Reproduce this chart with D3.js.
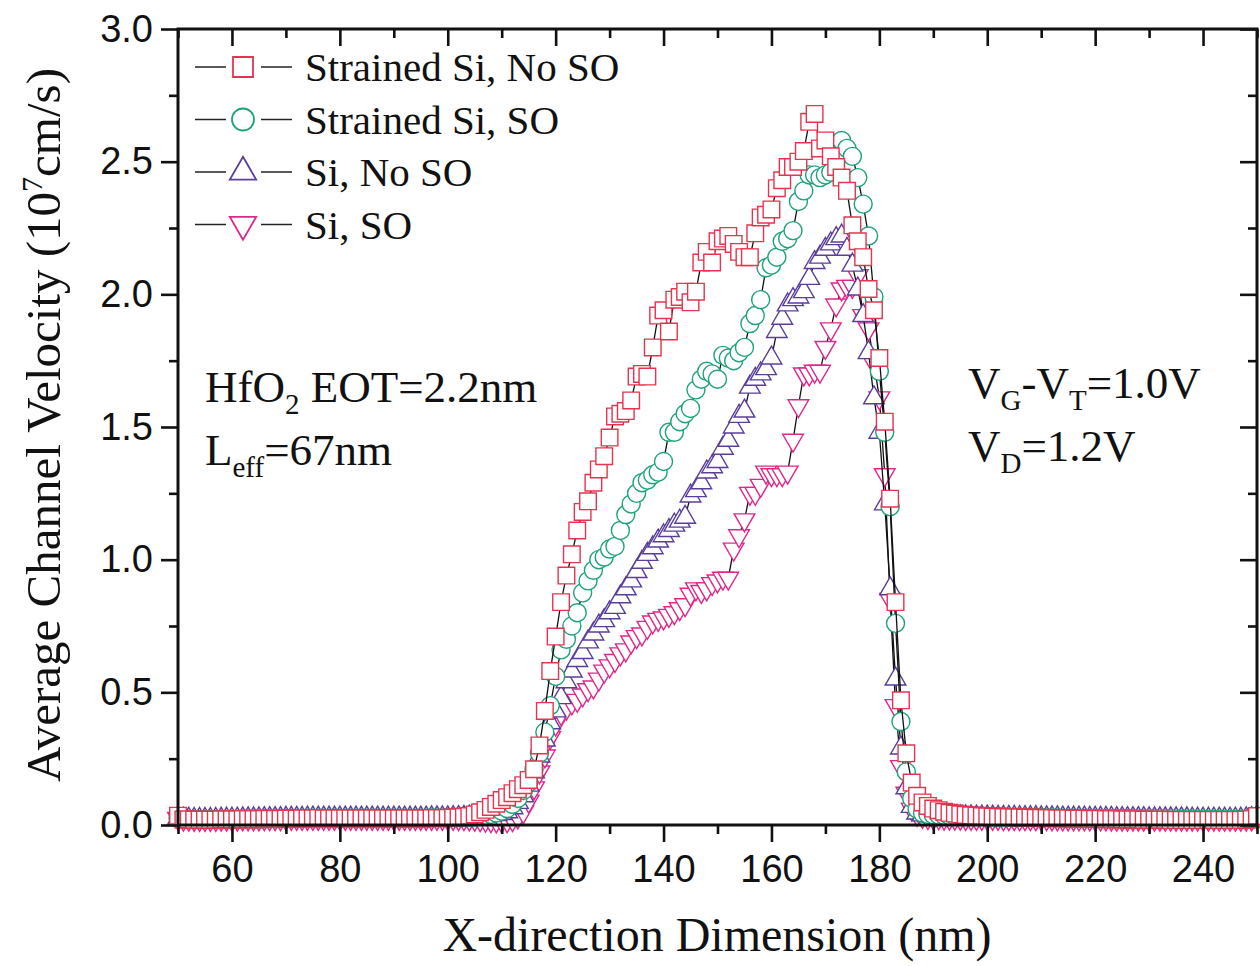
<!DOCTYPE html>
<html>
<head>
<meta charset="utf-8">
<script src="https://cdn.jsdelivr.net/npm/d3@7"></script>
<style>
  body { margin: 0; background: #fff; }
  text { fill: #111; }
</style>
</head>
<body>
<svg id="chart" width="1260" height="966"></svg>
<script>
// x positions along the channel (nm), one sample per nm
const positionsNm = [
  50, 51, 52, 53, 54, 55, 56, 57, 58, 59,
  60, 61, 62, 63, 64, 65, 66, 67, 68, 69,
  70, 71, 72, 73, 74, 75, 76, 77, 78, 79,
  80, 81, 82, 83, 84, 85, 86, 87, 88, 89,
  90, 91, 92, 93, 94, 95, 96, 97, 98, 99,
  100, 101, 102, 103, 104, 105, 106, 107, 108, 109,
  110, 111, 112, 113, 114, 115, 116, 117, 118, 119,
  120, 121, 122, 123, 124, 125, 126, 127, 128, 129,
  130, 131, 132, 133, 134, 135, 136, 137, 138, 139,
  140, 141, 142, 143, 144, 145, 146, 147, 148, 149,
  150, 151, 152, 153, 154, 155, 156, 157, 158, 159,
  160, 161, 162, 163, 164, 165, 166, 167, 168, 169,
  170, 171, 172, 173, 174, 175, 176, 177, 178, 179,
  180, 181, 182, 183, 184, 185, 186, 187, 188, 189,
  190, 191, 192, 193, 194, 195, 196, 197, 198, 199,
  200, 201, 202, 203, 204, 205, 206, 207, 208, 209,
  210, 211, 212, 213, 214, 215, 216, 217, 218, 219,
  220, 221, 222, 223, 224, 225, 226, 227, 228, 229,
  230, 231, 232, 233, 234, 235, 236, 237, 238, 239,
  240, 241, 242, 243, 244, 245, 246, 247, 248, 249,
  250
];

// average channel velocity, 1e7 cm/s
const strainedNoSO = [
  0.035, 0.021, 0.021, 0.020, 0.020, 0.020, 0.020, 0.020, 0.021, 0.021,
  0.021, 0.021, 0.022, 0.022, 0.022, 0.022, 0.023, 0.023, 0.023, 0.023,
  0.024, 0.024, 0.024, 0.025, 0.025, 0.025, 0.026, 0.025, 0.025, 0.025,
  0.025, 0.025, 0.025, 0.025, 0.025, 0.025, 0.025, 0.025, 0.025, 0.025,
  0.025, 0.025, 0.025, 0.025, 0.025, 0.025, 0.025, 0.026, 0.026, 0.026,
  0.027, 0.028, 0.029, 0.031, 0.034, 0.040, 0.048, 0.057, 0.068, 0.080,
  0.094, 0.105, 0.120, 0.135, 0.150, 0.170, 0.210, 0.300, 0.430, 0.580,
  0.710, 0.840, 0.940, 1.020, 1.110, 1.180, 1.220, 1.290, 1.340, 1.390,
  1.460, 1.540, 1.550, 1.560, 1.600, 1.690, 1.700, 1.690, 1.800, 1.920,
  1.940, 1.860, 1.980, 1.990, 2.010, 1.970, 2.010, 2.120, 2.160, 2.120,
  2.200, 2.210, 2.220, 2.190, 2.160, 2.140, 2.140, 2.230, 2.290, 2.300,
  2.320, 2.400, 2.430, 2.480, 2.480, 2.500, 2.540, 2.650, 2.680, 2.550,
  2.580, 2.520, 2.480, 2.440, 2.390, 2.260, 2.200, 2.140, 2.020, 1.940,
  1.760, 1.520, 1.230, 0.840, 0.470, 0.270, 0.160, 0.110, 0.085, 0.072,
  0.062, 0.056, 0.050, 0.046, 0.043, 0.040, 0.038, 0.036, 0.035, 0.034,
  0.033, 0.032, 0.031, 0.030, 0.030, 0.029, 0.029, 0.028, 0.028, 0.027,
  0.027, 0.026, 0.026, 0.025, 0.025, 0.025, 0.024, 0.024, 0.024, 0.023,
  0.023, 0.023, 0.022, 0.022, 0.022, 0.021, 0.021, 0.021, 0.021, 0.020,
  0.020, 0.020, 0.020, 0.020, 0.019, 0.019, 0.019, 0.019, 0.019, 0.019,
  0.019, 0.019, 0.019, 0.019, 0.019, 0.019, 0.019, 0.019, 0.020, 0.022,
  0.034
];

const strainedSO = [
  0.025, 0.022, 0.022, 0.021, 0.021, 0.021, 0.021, 0.021, 0.022, 0.022,
  0.022, 0.022, 0.023, 0.023, 0.023, 0.023, 0.024, 0.024, 0.024, 0.024,
  0.025, 0.025, 0.025, 0.026, 0.026, 0.026, 0.026, 0.026, 0.026, 0.026,
  0.026, 0.026, 0.026, 0.026, 0.026, 0.026, 0.026, 0.026, 0.026, 0.026,
  0.026, 0.026, 0.026, 0.026, 0.026, 0.026, 0.026, 0.027, 0.027, 0.027,
  0.027, 0.028, 0.028, 0.029, 0.030, 0.031, 0.033, 0.036, 0.040, 0.045,
  0.052, 0.062, 0.078, 0.100, 0.130, 0.160, 0.210, 0.270, 0.350, 0.450,
  0.560, 0.660, 0.700, 0.750, 0.800, 0.875, 0.920, 0.960, 1.000, 1.010,
  1.040, 1.050, 1.110, 1.170, 1.210, 1.250, 1.290, 1.300, 1.320, 1.330,
  1.370, 1.480, 1.480, 1.520, 1.550, 1.570, 1.640, 1.680, 1.710, 1.700,
  1.680, 1.770, 1.760, 1.750, 1.780, 1.800, 1.890, 1.920, 1.980, 2.100,
  2.110, 2.140, 2.200, 2.210, 2.240, 2.350, 2.390, 2.450, 2.450, 2.440,
  2.450, 2.460, 2.520, 2.580, 2.550, 2.520, 2.440, 2.340, 2.220, 1.990,
  1.710, 1.480, 1.200, 0.760, 0.390, 0.200, 0.100, 0.060, 0.045, 0.040,
  0.038, 0.037, 0.036, 0.035, 0.034, 0.034, 0.033, 0.033, 0.032, 0.032,
  0.031, 0.031, 0.030, 0.030, 0.030, 0.029, 0.029, 0.029, 0.028, 0.028,
  0.028, 0.027, 0.027, 0.027, 0.026, 0.026, 0.026, 0.026, 0.025, 0.025,
  0.025, 0.025, 0.025, 0.024, 0.024, 0.024, 0.024, 0.024, 0.023, 0.023,
  0.023, 0.023, 0.023, 0.023, 0.023, 0.022, 0.022, 0.022, 0.022, 0.022,
  0.022, 0.022, 0.022, 0.022, 0.022, 0.022, 0.022, 0.022, 0.023, 0.024,
  0.030
];

const siNoSO = [
  0.025, 0.022, 0.022, 0.021, 0.021, 0.021, 0.021, 0.021, 0.022, 0.022,
  0.022, 0.022, 0.023, 0.023, 0.023, 0.023, 0.024, 0.024, 0.024, 0.024,
  0.025, 0.025, 0.025, 0.025, 0.026, 0.026, 0.026, 0.026, 0.026, 0.026,
  0.026, 0.026, 0.026, 0.026, 0.026, 0.026, 0.026, 0.026, 0.026, 0.026,
  0.026, 0.026, 0.026, 0.026, 0.026, 0.026, 0.026, 0.027, 0.027, 0.027,
  0.027, 0.028, 0.028, 0.029, 0.030, 0.031, 0.032, 0.034, 0.036, 0.039,
  0.043, 0.050, 0.065, 0.085, 0.110, 0.150, 0.200, 0.260, 0.320, 0.385,
  0.430, 0.480, 0.540, 0.580, 0.620, 0.650, 0.690, 0.720, 0.750, 0.770,
  0.800, 0.820, 0.860, 0.890, 0.920, 0.955, 0.990, 1.020, 1.045, 1.070,
  1.090, 1.110, 1.130, 1.145, 1.160, 1.240, 1.260, 1.290, 1.330, 1.350,
  1.370, 1.420, 1.450, 1.500, 1.540, 1.560, 1.650, 1.680, 1.700, 1.720,
  1.760, 1.860, 1.910, 1.960, 1.980, 1.990, 2.010, 2.060, 2.120, 2.140,
  2.170, 2.190, 2.210, 2.220, 2.170, 2.110, 2.020, 1.920, 1.780, 1.610,
  1.480, 1.210, 0.890, 0.550, 0.290, 0.140, 0.070, 0.045, 0.038, 0.035,
  0.034, 0.033, 0.033, 0.032, 0.032, 0.031, 0.031, 0.031, 0.030, 0.030,
  0.030, 0.030, 0.029, 0.029, 0.029, 0.029, 0.028, 0.028, 0.028, 0.028,
  0.027, 0.027, 0.027, 0.027, 0.026, 0.026, 0.026, 0.026, 0.026, 0.025,
  0.025, 0.025, 0.025, 0.025, 0.024, 0.024, 0.024, 0.024, 0.024, 0.024,
  0.023, 0.023, 0.023, 0.023, 0.023, 0.023, 0.023, 0.023, 0.022, 0.022,
  0.022, 0.022, 0.022, 0.022, 0.022, 0.022, 0.022, 0.022, 0.023, 0.024,
  0.030
];

const siSO = [
  0.025, 0.022, 0.022, 0.021, 0.021, 0.021, 0.021, 0.021, 0.022, 0.022,
  0.022, 0.022, 0.023, 0.023, 0.023, 0.023, 0.024, 0.024, 0.024, 0.024,
  0.025, 0.025, 0.025, 0.025, 0.025, 0.025, 0.025, 0.025, 0.025, 0.025,
  0.025, 0.025, 0.025, 0.025, 0.025, 0.025, 0.025, 0.025, 0.025, 0.025,
  0.025, 0.025, 0.025, 0.025, 0.025, 0.025, 0.025, 0.025, 0.025, 0.025,
  0.025, 0.025, 0.024, 0.024, 0.023, 0.022, 0.020, 0.018, 0.016, 0.015,
  0.015, 0.016, 0.020, 0.030, 0.050, 0.090, 0.140, 0.200, 0.260, 0.330,
  0.380, 0.420, 0.440, 0.460, 0.470, 0.490, 0.510, 0.520, 0.550, 0.580,
  0.600, 0.620, 0.645, 0.660, 0.690, 0.710, 0.720, 0.745, 0.765, 0.775,
  0.780, 0.790, 0.800, 0.815, 0.830, 0.870, 0.890, 0.880, 0.890, 0.910,
  0.920, 0.930, 0.930, 1.040, 1.090, 1.150, 1.250, 1.250, 1.280, 1.330,
  1.320, 1.320, 1.320, 1.330, 1.450, 1.580, 1.700, 1.700, 1.710, 1.710,
  1.800, 1.870, 1.960, 2.020, 2.030, 2.030, 2.070, 1.920, 1.870, 1.740,
  1.610, 1.320, 0.850, 0.450, 0.220, 0.120, 0.060, 0.040, 0.032, 0.028,
  0.027, 0.027, 0.026, 0.026, 0.026, 0.026, 0.025, 0.025, 0.025, 0.025,
  0.025, 0.025, 0.025, 0.024, 0.024, 0.024, 0.024, 0.024, 0.024, 0.024,
  0.024, 0.024, 0.023, 0.023, 0.023, 0.023, 0.023, 0.023, 0.023, 0.023,
  0.023, 0.023, 0.023, 0.022, 0.022, 0.022, 0.022, 0.022, 0.022, 0.022,
  0.022, 0.022, 0.022, 0.022, 0.022, 0.022, 0.022, 0.022, 0.022, 0.022,
  0.022, 0.022, 0.022, 0.022, 0.022, 0.022, 0.022, 0.022, 0.022, 0.023,
  0.028
];

const seriesNames = ["Strained Si, No SO", "Strained Si, SO", "Si, No SO", "Si, SO"];
const seriesValues = [strainedNoSO, strainedSO, siNoSO, siSO];
const seriesColors = ["#e5344f", "#1ea27c", "#5a3e9c", "#e0268a"];
const seriesSymbols = [d3.symbolSquare, d3.symbolCircle, d3.symbolTriangle, d3.symbolTriangle];
const seriesRotate = [0, 0, 0, 180];

const xMajor = [60, 80, 100, 120, 140, 160, 180, 200, 220, 240];
const xMinor = [50, 70, 90, 110, 130, 150, 170, 190, 210, 230, 250];
const yMajor = [0, 0.5, 1.0, 1.5, 2.0, 2.5, 3.0];
const yMinor = [0.25, 0.75, 1.25, 1.75, 2.25, 2.75];

const plotLeft = 178, plotRight = 1257, plotTop = 29, plotBottom = 825;
const serif = "'Liberation Serif', 'Times New Roman', serif";
const sans = "'Liberation Sans', Arial, sans-serif";

const svg = d3.select("#chart");
svg.append("rect").attr("width", 1260).attr("height", 966).attr("fill", "#fff");

const x = d3.scaleLinear().domain([50, 250]).range([plotLeft, plotRight]);
const y = d3.scaleLinear().domain([0, 3]).range([plotBottom, plotTop]);

// data: lines then markers, Si SO drawn first so strained No SO ends up on top
const line = d3.line().x(d => x(d[0])).y(d => y(d[1]));
const plotSizes = [275, 255, 185, 185];

const order = [3, 2, 1, 0];
order.forEach(function (s) {
  const pts = positionsNm.map((p, i) => [p, seriesValues[s][i]]);
  const g = svg.append("g").attr("class", "series s" + s);
  g.append("path")
    .datum(pts)
    .attr("d", line)
    .attr("fill", "none")
    .attr("stroke", "#111")
    .attr("stroke-width", 1.3);
  const sym = d3.symbol().type(seriesSymbols[s]).size(plotSizes[s]);
  g.selectAll(".pt")
    .data(pts)
    .enter()
    .append("path")
    .attr("class", "pt")
    .attr("d", sym)
    .attr("transform", function (d) {
      return "translate(" + x(d[0]) + "," + y(d[1]) + ") rotate(" + seriesRotate[s] + ")";
    })
    .attr("fill", "#fff")
    .attr("stroke", seriesColors[s])
    .attr("stroke-width", 1.4);
});

// axes
function styleAxis(g, fontSize) {
  g.select(".domain").remove();
  g.selectAll(".tick line").attr("stroke", "#111").attr("stroke-width", 2.6);
  g.selectAll(".tick text")
    .attr("fill", "#111")
    .style("font-family", sans)
    .style("font-size", fontSize + "px");
}

svg.append("g").attr("transform", "translate(0," + plotBottom + ")")
  .call(d3.axisBottom(x).tickValues(xMajor).tickSize(17).tickPadding(13).tickFormat(d3.format("d")))
  .call(g => styleAxis(g, 38));
svg.append("g").attr("transform", "translate(0," + plotBottom + ")")
  .call(d3.axisBottom(x).tickValues(xMinor).tickSize(9).tickFormat(""))
  .call(g => styleAxis(g, 38));
svg.append("g").attr("transform", "translate(0," + plotTop + ")")
  .call(d3.axisTop(x).tickValues(xMajor).tickSize(-17).tickFormat(""))
  .call(g => styleAxis(g, 38));
svg.append("g").attr("transform", "translate(0," + plotTop + ")")
  .call(d3.axisTop(x).tickValues(xMinor).tickSize(-9).tickFormat(""))
  .call(g => styleAxis(g, 38));

svg.append("g").attr("transform", "translate(" + plotLeft + ",0)")
  .call(d3.axisLeft(y).tickValues(yMajor).tickSize(17).tickPadding(8).tickFormat(d3.format(".1f")))
  .call(g => styleAxis(g, 38));
svg.append("g").attr("transform", "translate(" + plotLeft + ",0)")
  .call(d3.axisLeft(y).tickValues(yMinor).tickSize(9).tickFormat(""))
  .call(g => styleAxis(g, 38));
svg.append("g").attr("transform", "translate(" + plotRight + ",0)")
  .call(d3.axisRight(y).tickValues(yMajor).tickSize(-17).tickFormat(""))
  .call(g => styleAxis(g, 38));
svg.append("g").attr("transform", "translate(" + plotRight + ",0)")
  .call(d3.axisRight(y).tickValues(yMinor).tickSize(-9).tickFormat(""))
  .call(g => styleAxis(g, 38));

svg.append("rect")
  .attr("x", plotLeft).attr("y", plotTop)
  .attr("width", plotRight - plotLeft).attr("height", plotBottom - plotTop)
  .attr("fill", "none").attr("stroke", "#111").attr("stroke-width", 3);

// axis titles
svg.append("text")
  .attr("x", 717)
  .attr("y", 951)
  .attr("text-anchor", "middle")
  .style("font-family", serif)
  .style("font-size", "48px")
  .text("X-direction Dimension (nm)");

const yt = svg.append("text")
  .attr("transform", "translate(60,425) rotate(-90)")
  .attr("text-anchor", "middle")
  .style("font-family", serif)
  .style("font-size", "49px");
yt.append("tspan").text("Average Channel Velocity (10");
yt.append("tspan").attr("dy", -18).style("font-size", "30px").text("7");
yt.append("tspan").attr("dy", 18).text("cm/s)");

// legend
const legendSizes = [400, 380, 300, 300];
seriesNames.forEach(function (name, i) {
  const cy = 67 + i * 52.5;
  const lg = svg.append("g").attr("class", "legend");
  lg.append("line").attr("x1", 195).attr("x2", 226).attr("y1", cy).attr("y2", cy)
    .attr("stroke", "#222").attr("stroke-width", 1.5);
  lg.append("line").attr("x1", 261).attr("x2", 292).attr("y1", cy).attr("y2", cy)
    .attr("stroke", "#222").attr("stroke-width", 1.5);
  lg.append("path")
    .attr("d", d3.symbol().type(seriesSymbols[i]).size(legendSizes[i]))
    .attr("transform", "translate(243," + cy + ") rotate(" + seriesRotate[i] + ")")
    .attr("fill", "#fff")
    .attr("stroke", seriesColors[i])
    .attr("stroke-width", 1.8);
  lg.append("text")
    .attr("x", 305).attr("y", cy + 14)
    .style("font-family", serif)
    .style("font-size", "41px")
    .text(name);
});

// annotations
function annot(xp, yp, parts) {
  const t = svg.append("text").attr("x", xp).attr("y", yp)
    .style("font-family", serif).style("font-size", "45px");
  let shift = 0;
  parts.forEach(function (p) {
    const want = p.sub ? 12 : 0;
    t.append("tspan")
      .attr("dy", want - shift)
      .style("font-size", p.sub ? "29px" : "45px")
      .text(p.t);
    shift = want;
  });
}
annot(205, 402, [{ t: "HfO" }, { t: "2", sub: true }, { t: " EOT=2.2nm" }]);
annot(205, 465, [{ t: "L" }, { t: "eff", sub: true }, { t: "=67nm" }]);
annot(968, 398, [{ t: "V" }, { t: "G", sub: true }, { t: "-V" }, { t: "T", sub: true }, { t: "=1.0V" }]);
annot(968, 461, [{ t: "V" }, { t: "D", sub: true }, { t: "=1.2V" }]);
</script>
</body>
</html>
